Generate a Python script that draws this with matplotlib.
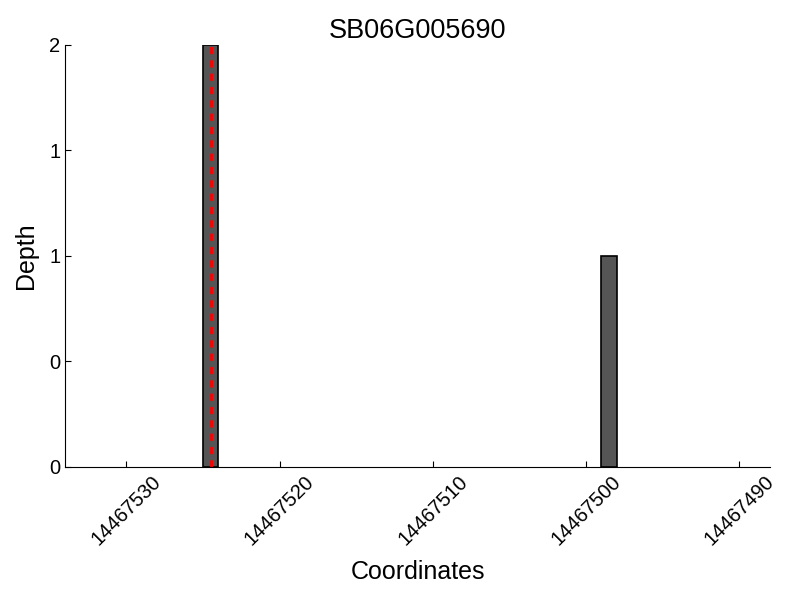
import matplotlib
matplotlib.use("Agg")
import matplotlib.pyplot as plt
from matplotlib.ticker import FormatStrFormatter

plt.rcParams['font.family'] = ['Liberation Sans', 'DejaVu Sans']

title = "SB06G005690"
positions = [14467524.5, 14467498.5]
depths = [2, 1]
marker_pos = 14467524.5
xticks = [14467530, 14467520, 14467510, 14467500, 14467490]
yticks = [0, 0.5, 1, 1.5, 2]

fig = plt.figure(figsize=(8, 6), dpi=100)
ax = fig.add_axes([0.08125, 0.2217, 0.88125, 0.7033])
ax.bar(positions, depths, width=1.0, color='#555555', edgecolor='black', linewidth=1.2)
ax.axvline(marker_pos, color='red', linestyle='--', linewidth=2.0, dashes=(2.6, 2.2))
ax.set_xlim(14467534, 14467488)
ax.set_ylim(0, 2)
ax.set_xticks(xticks)
ax.set_xticklabels([str(t) for t in xticks], rotation=45, fontsize=14.5)
ax.set_yticks(yticks)
ax.yaxis.set_major_formatter(FormatStrFormatter('%d'))
ax.tick_params(axis='both', direction='in', length=4, labelsize=14.5)
for s in ['top', 'right']:
    ax.spines[s].set_visible(False)
ax.set_title(title, fontsize=19.5, pad=5)
ax.set_xlabel("Coordinates", fontsize=18, labelpad=8)
ax.set_ylabel("Depth", fontsize=18, labelpad=8)
fig.savefig("out.png", dpi=100)
